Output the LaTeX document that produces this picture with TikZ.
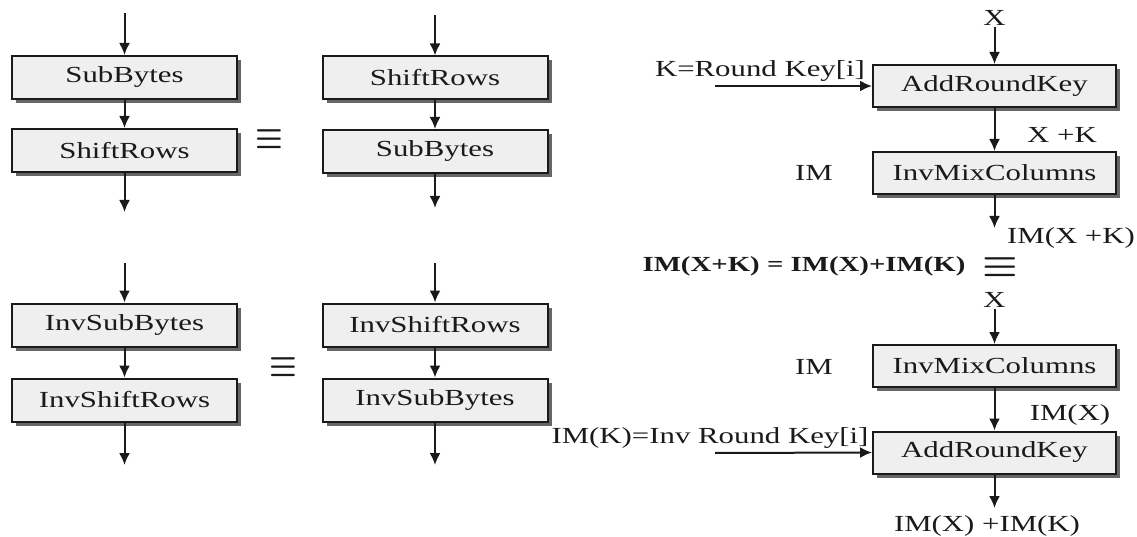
\documentclass[tikz,border=0pt]{standalone}
\usepackage{graphicx}
\usepackage{fontspec}
\setmainfont[FakeStretch=1.34]{Liberation Serif}
\usetikzlibrary{arrows.meta,shadows}
\definecolor{boxfill}{HTML}{EFEFEF}
\definecolor{ink}{HTML}{1A1A1A}
\newcommand{\equivsign}[1]{\scalebox{#1}[1.5]{\boldmath$\equiv$}}
\begin{document}
\begin{tikzpicture}[x=1pt,y=-1pt,
  every node/.style={text=ink,font=\fontsize{23}{25}\selectfont,inner sep=1pt},
  stage/.style={draw=ink,line width=2pt,fill=boxfill,minimum width=225pt,minimum height=43pt,inner sep=0pt,
    drop shadow={shadow xshift=4pt,shadow yshift=-4pt,fill=black!60,opacity=1}},
  wstage/.style={stage,minimum width=243pt,minimum height=42pt},
  flow/.style={draw=ink,line width=2pt,-{Latex[length=12pt,width=11pt]}}]
\useasboundingbox (0,0) rectangle (1137,537);

% --- SubBytes / ShiftRows commute ---
\node[stage] (sb1) at (124.5,77.5) {SubBytes};
\node[stage] (sr1) at (124.5,150.5) {ShiftRows};
\coordinate (a1in) at (124.5,13);
\coordinate (a1out) at (124.5,212);
\draw[flow] (a1in) -- (sb1);
\draw[flow] (sb1) -- (sr1);
\draw[flow] (sr1) -- (a1out);

\node (eq1) at (269,139) {\equivsign{1.25}};

\node[stage] (sr2) at (435,78) {ShiftRows};
\node[stage] (sb2) at (435,151.5) {SubBytes};
\coordinate (b1in) at (435,15);
\coordinate (b1out) at (435,208);
\draw[flow] (b1in) -- (sr2);
\draw[flow] (sr2) -- (sb2);
\draw[flow] (sb2) -- (b1out);

% --- InvSubBytes / InvShiftRows commute ---
\node[stage] (isb1) at (124.5,325) {InvSubBytes};
\node[stage] (isr1) at (124.5,400) {InvShiftRows};
\coordinate (a2in) at (124.5,263);
\coordinate (a2out) at (124.5,465);
\draw[flow] (a2in) -- (isb1);
\draw[flow] (isb1) -- (isr1);
\draw[flow] (isr1) -- (a2out);

\node (eq2) at (283,367) {\equivsign{1.25}};

\node[stage] (isr2) at (435,325) {InvShiftRows};
\node[stage] (isb2) at (435,400) {InvSubBytes};
\coordinate (b2in) at (435,263);
\coordinate (b2out) at (435,465);
\draw[flow] (b2in) -- (isr2);
\draw[flow] (isr2) -- (isb2);
\draw[flow] (isb2) -- (b2out);

% --- AddRoundKey then InvMixColumns ---
\node (x1) at (994.5,18) {X};
\node[wstage] (ark1) at (994.5,86) {AddRoundKey};
\node[wstage] (imc1) at (994.5,173) {InvMixColumns};
\coordinate (c1out) at (994.5,228);
\coordinate (k1) at (715,86);
\node (k1lbl) at (760,71) {K=Round Key[i]};
\draw[flow] (x1.south) -- (ark1);
\draw[flow] (k1) -- (ark1.west);
\draw[flow] (ark1) -- (imc1);
\draw[flow] (imc1) -- (c1out);
\node (xk) at (1062,135) {X +K};
\node (im1) at (814,173) {IM};
\node (imxk) at (1071,238) {IM(X +K)};

\node (lin) at (804,266) {\fontsize{21.5}{24}\selectfont\bfseries IM(X+K) = IM(X)+IM(K)};
\node (eq3) at (1000,267) {\equivsign{1.6}};

% --- InvMixColumns then AddRoundKey ---
\node (x2) at (994.5,300) {X};
\node[wstage] (imc2) at (994.5,366) {InvMixColumns};
\node[wstage] (ark2) at (994.5,452.5) {AddRoundKey};
\coordinate (c2out) at (994.5,508);
\coordinate (k2) at (715,453);
\node (k2lbl) at (710,438) {IM(K)=Inv Round Key[i]};
\draw[flow] (x2.south) -- (imc2);
\draw[flow] (imc2) -- (ark2);
\draw[flow] (k2) -- (ark2.west);
\draw[flow] (ark2) -- (c2out);
\node (im2) at (814,367) {IM};
\node (imx) at (1070,415) {IM(X)};
\node (imsum) at (987,526) {IM(X) +IM(K)};
\end{tikzpicture}
\end{document}
